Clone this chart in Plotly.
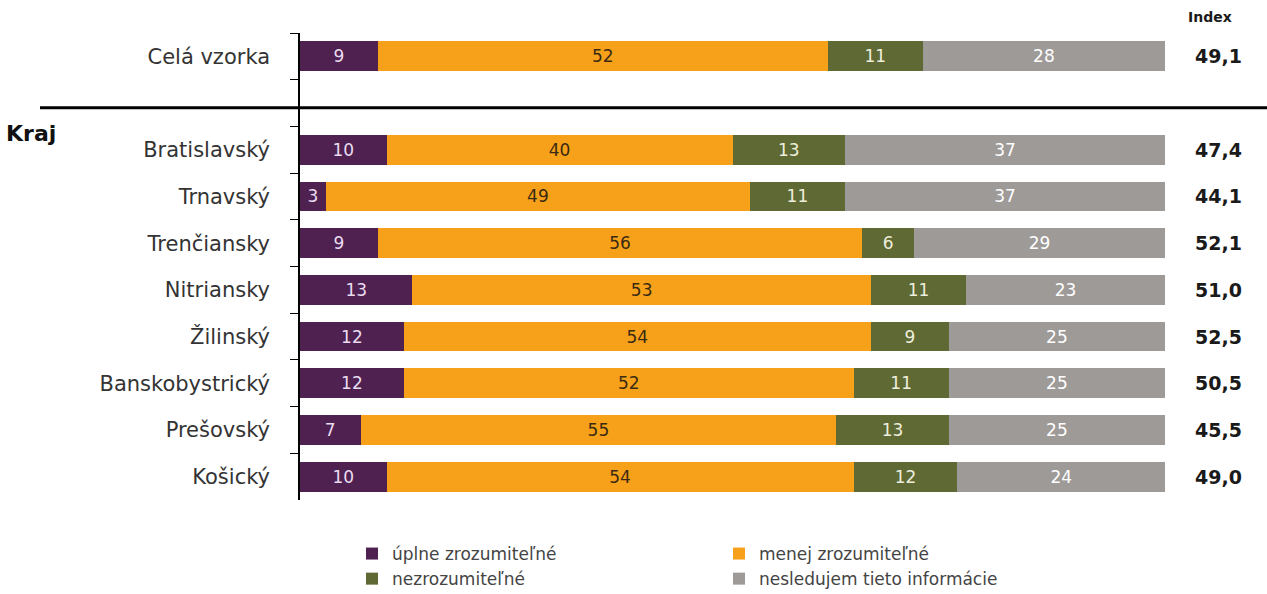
import plotly.graph_objects as go

categories = ["Celá vzorka", " ", "Bratislavský", "Trnavský", "Trenčiansky", "Nitriansky",
              "Žilinský", "Banskobystrický", "Prešovský", "Košický"]
uplne = [9, 0, 10, 3, 9, 13, 12, 12, 7, 10]
menej = [52, 0, 40, 49, 56, 53, 54, 52, 55, 54]
nezroz = [11, 0, 13, 11, 6, 11, 9, 11, 13, 12]
nesled = [28, 0, 37, 37, 29, 23, 25, 25, 25, 24]
index_vals = ["49,1", "", "47,4", "44,1", "52,1", "51,0", "52,5", "50,5", "45,5", "49,0"]

series = [
    ("úplne zrozumiteľné", uplne, "#4E2150", "#EADCF0"),
    ("menej zrozumiteľné", menej, "#F7A11A", "#3A2A12"),
    ("nezrozumiteľné", nezroz, "#5E6934", "#EEEEDC"),
    ("nesledujem tieto informácie", nesled, "#9E9A98", "#FFFFFF"),
]

fig = go.Figure()
for name, vals, color, tcolor in series:
    texts = [str(v) if c != " " else "" for v, c in zip(vals, categories)]
    fig.add_trace(go.Bar(
        y=categories, x=vals, name=name, orientation="h",
        marker=dict(color=color, line=dict(width=0)),
        text=texts, textposition="inside", insidetextanchor="middle",
        textangle=0, constraintext="none",
        insidetextfont=dict(family="DejaVu Sans", size=17, color=tcolor),
        hoverinfo="skip",
    ))

L, R, T, B = 300, 102, 33, 94
W, H = 1267, 594
pw = W - L - R
ph = H - T - B

annotations = []
for cat, iv in zip(categories, index_vals):
    if iv:
        annotations.append(dict(
            xref="paper", yref="y", x=(1218 - L) / pw, y=cat, text=iv,
            showarrow=False, xanchor="center", yanchor="middle",
            font=dict(family="DejaVu Sans", size=19, color="#1a1a1a", weight="bold")))
annotations.append(dict(
    xref="paper", yref="paper", x=(1210 - L) / pw, y=1 + (T - 17) / ph, text="Index",
    showarrow=False, xanchor="center", yanchor="middle",
    font=dict(family="DejaVu Sans", size=14, color="#1a1a1a", weight="bold")))
annotations.append(dict(
    xref="paper", yref="paper", x=(4 - L) / pw, y=1 - (133 - T) / ph, text="Kraj",
    showarrow=False, xanchor="left", yanchor="middle",
    font=dict(family="DejaVu Sans", size=22, color="#111111", weight="bold")))

shapes = [dict(
    type="line", xref="paper", yref="y",
    x0=(40 - L) / pw, x1=(W - L) / pw, y0=1.1, y1=1.1,
    line=dict(color="#000000", width=3))]

fig.update_layout(
    barmode="stack",
    bargap=0.36,
    width=W, height=H,
    margin=dict(l=L, r=R, t=T, b=B, autoexpand=False),
    plot_bgcolor="white", paper_bgcolor="white",
    font=dict(family="DejaVu Sans", color="#333333"),
    xaxis=dict(range=[0, 100], visible=False, fixedrange=True),
    yaxis=dict(
        type="category", categoryorder="array", categoryarray=categories,
        autorange="reversed", tickson="boundaries", ticks="outside", ticklen=8,
        tickcolor="#000000", showline=True, linecolor="#000000", linewidth=1.5,
        showgrid=False, ticklabelstandoff=24, fixedrange=True,
        tickfont=dict(family="DejaVu Sans", size=21, color="#333333"),
    ),
    legend=dict(
        orientation="h", xref="container", yref="container",
        x=352 / W, y=1 - 536 / H, xanchor="left", yanchor="top",
        entrywidth=322, entrywidthmode="pixels", traceorder="normal",
        font=dict(family="DejaVu Sans", size=17, color="#444444"),
        itemclick=False, itemdoubleclick=False,
    ),
    annotations=annotations,
    shapes=shapes,
    showlegend=True,
)

fig.write_html("out.html", config={"displayModeBar": False},
               post_script="document.body.style.margin='0';document.body.style.overflow='hidden';")
